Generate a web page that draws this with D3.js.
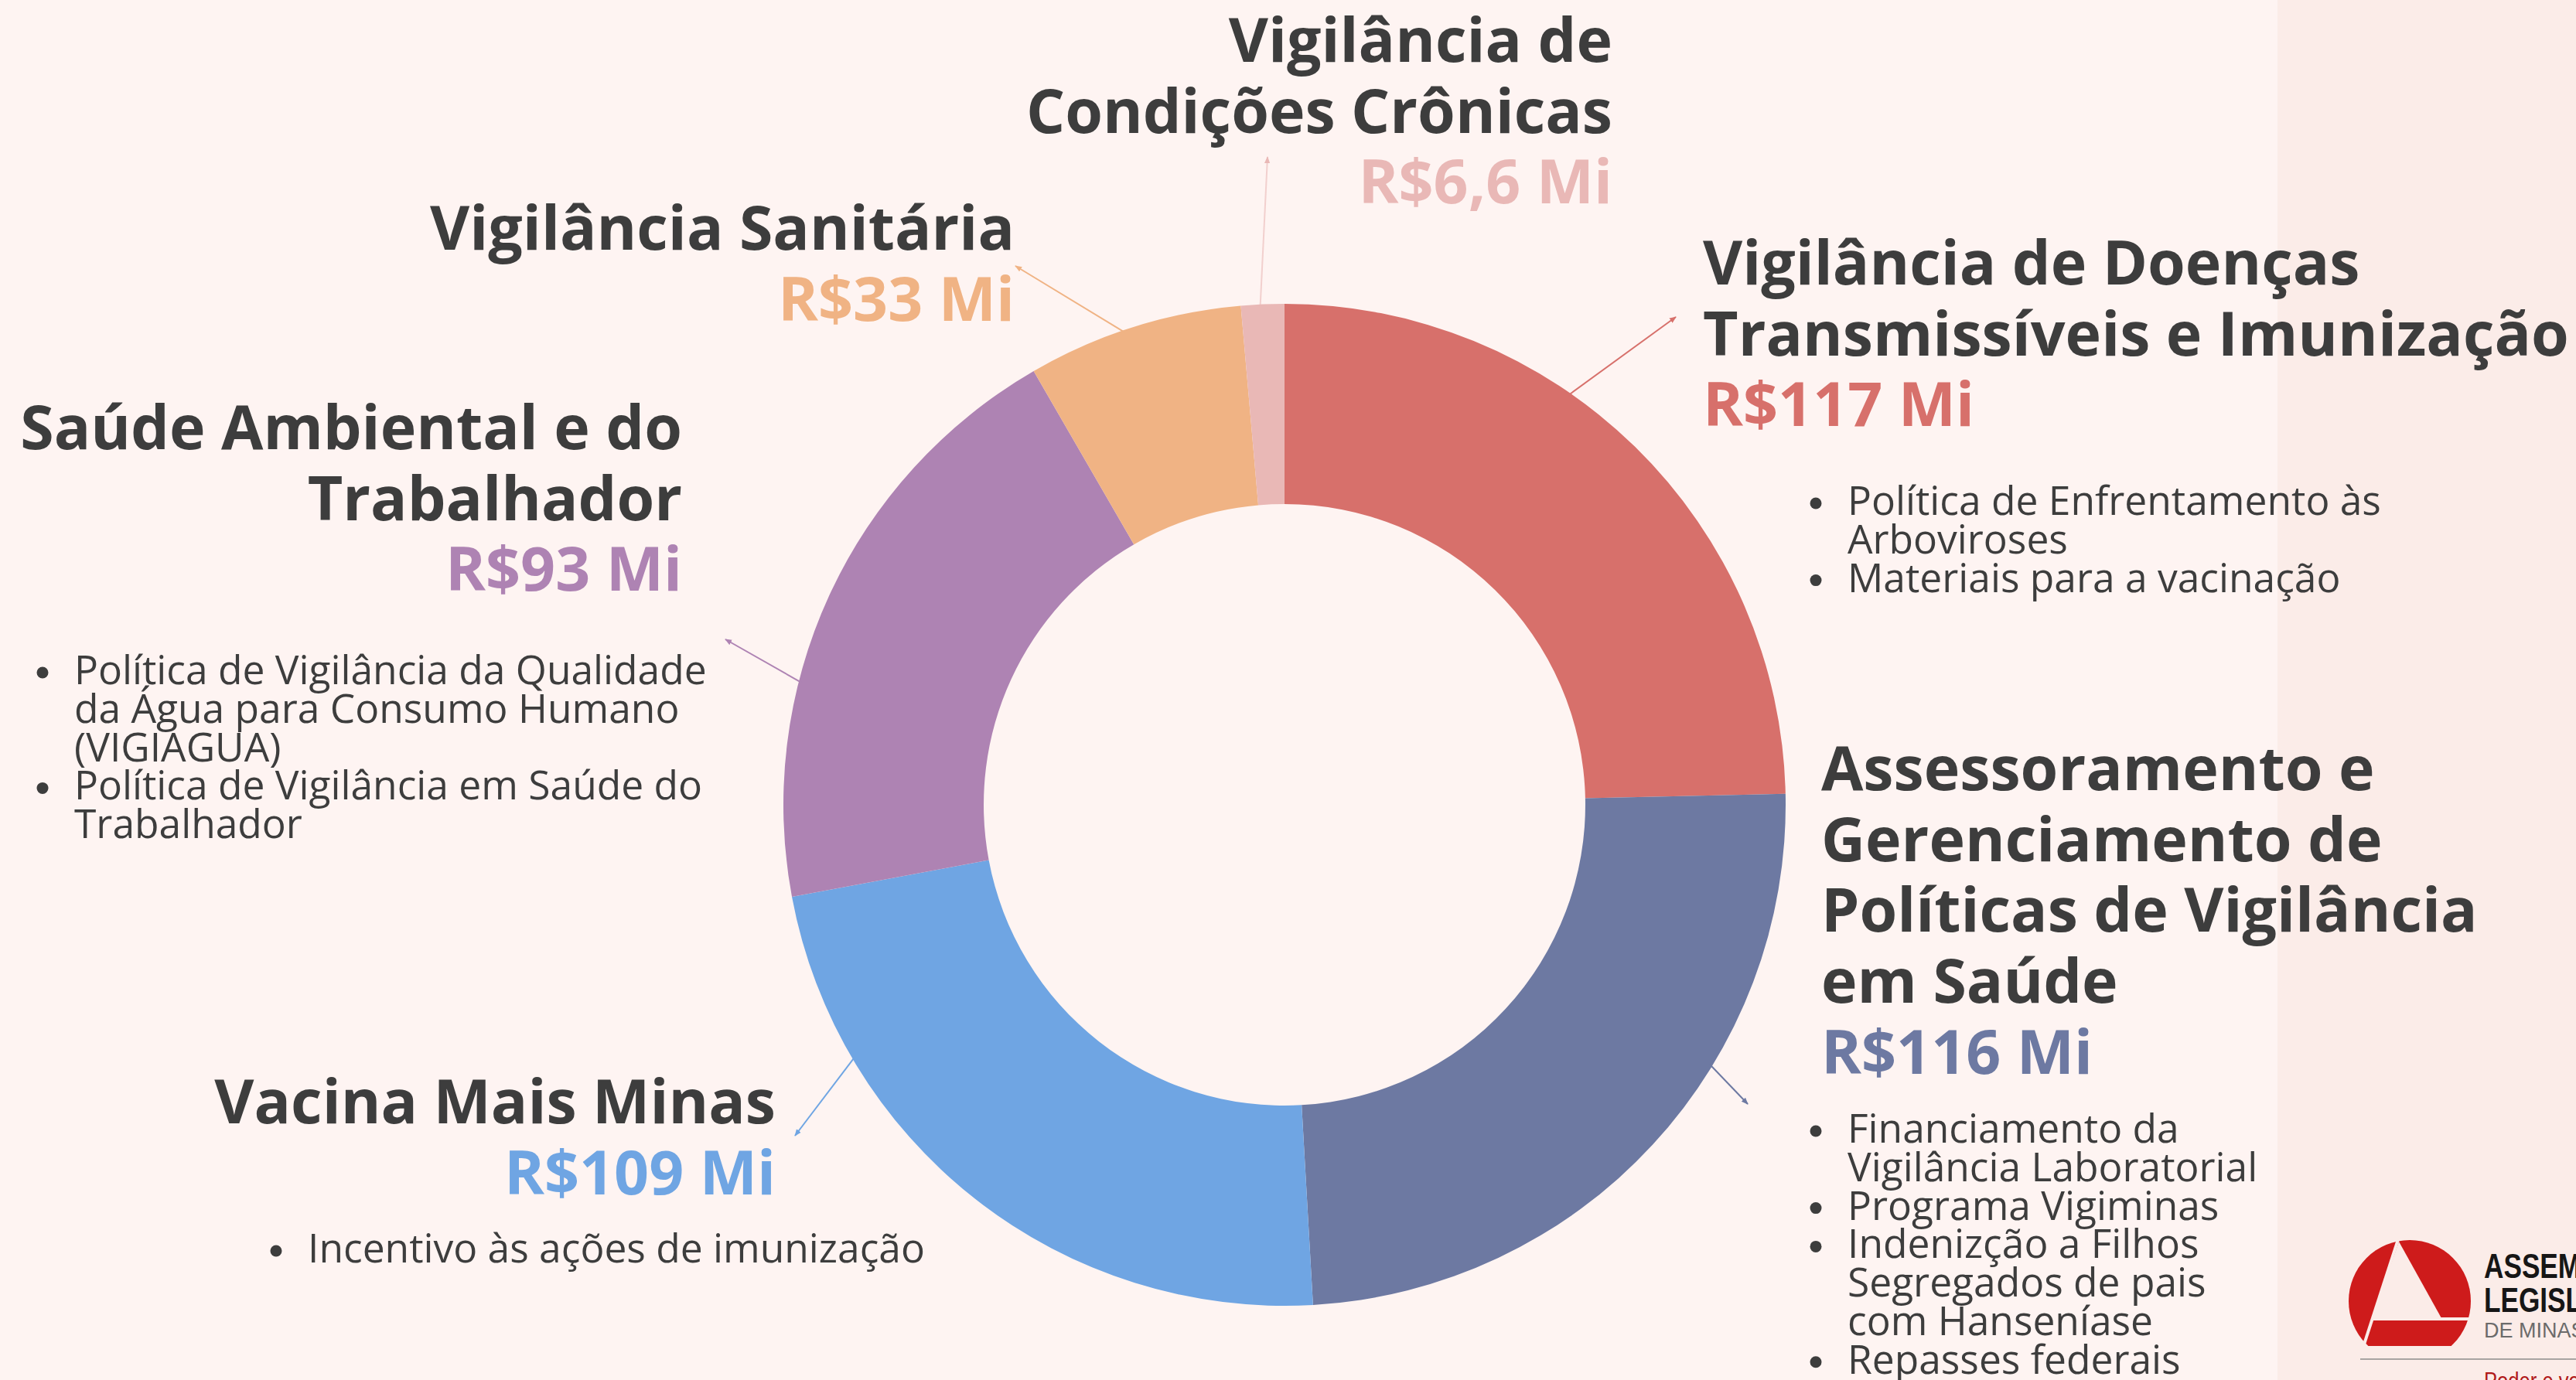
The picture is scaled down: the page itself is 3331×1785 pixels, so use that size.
<!DOCTYPE html>
<html lang="pt-BR">
<head>
<meta charset="utf-8">
<title>Vigilância em Saúde – orçamento por ação</title>
<script src="https://cdn.jsdelivr.net/npm/d3@7"></script>
<style>
  html, body { margin: 0; padding: 0; background: #FEF4F2; }
  svg { display: block; }
</style>
</head>
<body>
<svg id="chart"></svg>
<script>
// ---- data -------------------------------------------------------------
const categories = [
  "Vigilância de Doenças Transmissíveis e Imunização",
  "Assessoramento e Gerenciamento de Políticas de Vigilância em Saúde",
  "Vacina Mais Minas",
  "Saúde Ambiental e do Trabalhador",
  "Vigilância Sanitária",
  "Vigilância de Condições Crônicas"
];
// R$ milhões
const values = [117, 116, 109, 93, 33, 6.6];

const titleLines = [
  ["Vigilância de Doenças", "Transmissíveis e Imunização"],
  ["Assessoramento e", "Gerenciamento de", "Políticas de Vigilância", "em Saúde"],
  ["Vacina Mais Minas"],
  ["Saúde Ambiental e do", "Trabalhador"],
  ["Vigilância Sanitária"],
  ["Vigilância de", "Condições Crônicas"]
];

const bulletItems = [
  [["Política de Enfrentamento às", "Arboviroses"], ["Materiais para a vacinação"]],
  [["Financiamento da", "Vigilância Laboratorial"], ["Programa Vigiminas"],
   ["Indenizção a Filhos", "Segregados de pais", "com Hanseníase"], ["Repasses federais"]],
  [["Incentivo às ações de imunização"]],
  [["Política de Vigilância da Qualidade", "da Água para Consumo Humano", "(VIGIAGUA)"],
   ["Política de Vigilância em Saúde do", "Trabalhador"]],
  [],
  []
];

const colors = ["#D7706B", "#6D79A2", "#6FA5E3", "#AE83B3", "#F0B384", "#E9B8B6"];

// ---- layout -----------------------------------------------------------
const W = 3331, H = 1785;
const cx = 1661, cy = 1041, outerR = 648, innerR = 389;
const titleSize = 78.8, titleStep = 91.7;
const bulletSize = 51.5, bulletStep = 49.8;
const ink = "#3D3D3D";

// label placement: text anchor point, bullet block origin, connector angle (deg, clockwise from 12h) and tip
const labelLayout = [
  { anchor: "start", x: 2202, y: 368,  bx: 2389, by: 666,  angle: 34.7,  tip: [2167, 410] },
  { anchor: "start", x: 2355, y: 1022, bx: 2389, by: 1478, angle: 121.4, tip: [2260, 1428] },
  { anchor: "end",   x: 1003, y: 1453, bx: 398,  by: 1633, angle: 239.6, tip: [1028, 1469] },
  { anchor: "end",   x: 882,  y: 581,  bx: 96,   by: 885,  angle: 284.2, tip: [938, 827] },
  { anchor: "end",   x: 1312, y: 323,  angle: 341.4, tip: [1313, 344] },
  { anchor: "end",   x: 2085, y: 80,   angle: 357.2, tip: [1639, 203] }
];

const fmtValue = v => "R$" + String(v).replace(".", ",") + " Mi";

const svg = d3.select("#chart").attr("width", W).attr("height", H)
  .attr("viewBox", `0 0 ${W} ${H}`);

// background and right-hand band
svg.append("rect").attr("width", W).attr("height", H).attr("fill", "#FEF4F2");
svg.append("rect").attr("x", 2945).attr("y", 0).attr("width", W - 2945).attr("height", H)
  .attr("fill", "#FBECE8");

// ---- donut ------------------------------------------------------------
const data = categories.map((c, i) => ({ category: c, value: values[i], color: colors[i], i }));
const pie = d3.pie().sort(null).value(d => d.value).startAngle(0).endAngle(2 * Math.PI);
const arc = d3.arc().innerRadius(innerR).outerRadius(outerR);

const donut = svg.append("g").attr("transform", `translate(${cx},${cy})`);
donut.selectAll("path.slice")
  .data(pie(data))
  .join("path")
  .attr("class", "slice")
  .attr("d", arc)
  .attr("fill", d => d.data.color);

// ---- connectors -------------------------------------------------------
const defs = svg.append("defs");
colors.forEach((c, i) => {
  defs.append("marker")
    .attr("id", "tip" + i)
    .attr("viewBox", "0 0 10 10")
    .attr("refX", 9).attr("refY", 5)
    .attr("markerWidth", 9).attr("markerHeight", 9)
    .attr("markerUnits", "userSpaceOnUse")
    .attr("orient", "auto")
    .append("path")
    .attr("d", "M0,1 L10,5 L0,9 Z")
    .attr("fill", c);
});

svg.append("g").selectAll("line")
  .data(data)
  .join("line")
  .attr("x1", d => cx + (outerR - 4) * Math.sin(labelLayout[d.i].angle * Math.PI / 180))
  .attr("y1", d => cy - (outerR - 4) * Math.cos(labelLayout[d.i].angle * Math.PI / 180))
  .attr("x2", d => labelLayout[d.i].tip[0])
  .attr("y2", d => labelLayout[d.i].tip[1])
  .attr("stroke", d => d.color)
  .attr("stroke-width", 2)
  .attr("stroke-opacity", d => d.i === 5 ? 0.6 : 1)
  .attr("marker-end", d => `url(#tip${d.i})`);

// ---- labels -----------------------------------------------------------
const labels = svg.append("g").attr("font-family", "'Open Sans', sans-serif");

data.forEach(d => {
  const L = labelLayout[d.i];
  const g = labels.append("g");
  const t = g.append("text")
    .attr("text-anchor", L.anchor)
    .attr("font-size", titleSize)
    .attr("font-weight", 700);
  titleLines[d.i].forEach((line, k) => {
    t.append("tspan").attr("x", L.x).attr("y", L.y + k * titleStep)
      .attr("fill", ink).text(line);
  });
  t.append("tspan").attr("x", L.x).attr("y", L.y + titleLines[d.i].length * titleStep)
    .attr("fill", d.color).text(fmtValue(d.value));

  // bullet list
  let row = 0;
  bulletItems[d.i].forEach(item => {
    const y0 = L.by + row * bulletStep;
    g.append("circle").attr("cx", L.bx - 41).attr("cy", y0 - 15).attr("r", 7.5).attr("fill", ink);
    const bt = g.append("text").attr("font-size", bulletSize).attr("font-weight", 400).attr("fill", ink);
    item.forEach((line, k) => {
      bt.append("tspan").attr("x", L.bx).attr("y", y0 + k * bulletStep).text(line);
    });
    row += item.length;
  });
});

// ---- institutional logo ----------------------------------------------
const logo = svg.append("g");
const red = "#CE1B1B";
const band = "#FBECE8";
defs.append("clipPath").attr("id", "logoClip")
  .append("rect").attr("x", 3000).attr("y", 1590).attr("width", 260).attr("height", 151);
const mark = logo.append("g").attr("clip-path", "url(#logoClip)");
mark.append("circle").attr("cx", 3116).attr("cy", 1683).attr("r", 79).attr("fill", red);
mark.append("path").attr("d", "M3102,1606 L3068,1705 L3157,1705 Z").attr("fill", band);
mark.append("line").attr("x1", 3102).attr("y1", 1600).attr("x2", 3054).attr("y2", 1748)
  .attr("stroke", band).attr("stroke-width", 4);
mark.append("line").attr("x1", 3068).attr("y1", 1706).attr("x2", 3200).attr("y2", 1706)
  .attr("stroke", band).attr("stroke-width", 4);

// condensed wordmark
const logoText = logo.append("g")
  .attr("transform", "translate(3212,0) scale(0.8,1)")
  .attr("font-family", "'Liberation Sans', Arial, sans-serif");
logoText.append("text").attr("x", 0).attr("y", 1653).attr("font-size", 44).attr("font-weight", 700)
  .attr("fill", "#161616").text("ASSEMBLEIA");
logoText.append("text").attr("x", 0).attr("y", 1697).attr("font-size", 44).attr("font-weight", 700)
  .attr("fill", "#161616").text("LEGISLATIVA");
logoText.append("text").attr("x", 0).attr("y", 1797).attr("font-size", 32)
  .attr("fill", "#B01818").text("Poder e voz do cidadão");
logo.append("text").attr("x", 3212).attr("y", 1730).attr("font-size", 27)
  .attr("font-family", "'Liberation Sans', Arial, sans-serif")
  .attr("fill", "#6B6B6B").text("DE MINAS GERAIS");
logo.append("line").attr("x1", 3052).attr("y1", 1758).attr("x2", W).attr("y2", 1758)
  .attr("stroke", "#A8A4A2").attr("stroke-width", 2);
</script>
</body>
</html>
